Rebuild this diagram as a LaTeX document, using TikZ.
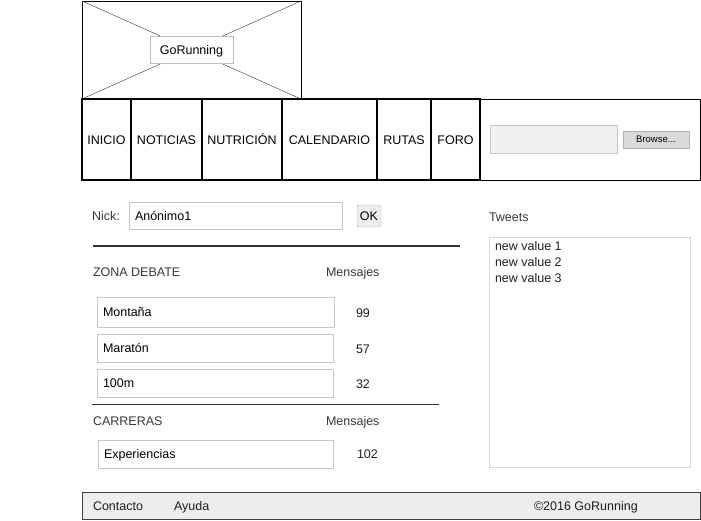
\documentclass[tikz,border=0pt]{standalone}
\usepackage{fontspec}
\setmainfont{Liberation Sans}
\usetikzlibrary{positioning}

\begin{document}
\begin{tikzpicture}[x=1pt,y=-1pt,inner sep=0pt,outer sep=0pt,text height=10.5pt,text depth=1.5pt,font=\fontsize{12.5}{14}\selectfont]
  \tikzstyle{menu}=[draw=black,line width=2pt,minimum height=81pt,text=black]
  \tikzstyle{campo}=[draw=black!22,fill=white,minimum height=28pt,anchor=north west,inner xsep=6pt,align=left,text=black]
  \tikzstyle{etiqueta}=[anchor=west,text=black!78]
  \tikzstyle{cifra}=[anchor=west,text=black!88]
  \useasboundingbox (0,0) rectangle (701,520);

  % cabecera
  \node[draw=black,anchor=north west,minimum width=219pt,minimum height=98pt] (logo) at (82,1) {};
  \draw[black!80] (logo.north west) -- (logo.south east)
	(logo.south west) -- (logo.north east);
  \node[draw=black!25,fill=white,minimum width=83pt,minimum height=27pt] (titulo) at (191.5,49.5) {GoRunning};

  \node[draw=black,anchor=north west,minimum width=220pt,minimum height=81pt] (barra) at (480,99) {};
  \node[menu,minimum width=49pt] (inicio) at (106.5,139.5) {INICIO};
  \node[menu,minimum width=71pt] (noticias) at (166.5,139.5) {NOTICIAS};
  \node[menu,minimum width=80pt] (nutricion) at (242,139.5) {NUTRICIÓN};
  \node[menu,minimum width=95pt] (calendario) at (329.5,139.5) {CALENDARIO};
  \node[menu,minimum width=54pt] (rutas) at (404,139.5) {RUTAS};
  \node[menu,minimum width=49pt] (foro) at (455.5,139.5) {FORO};
  \node[draw=black!22,fill=black!6,anchor=north west,minimum width=127pt,minimum height=28pt] (buscar) at (490,125) {};
  \node[draw=black!30,fill=black!15,anchor=north west,minimum width=66pt,minimum height=17pt,text height=7pt,text depth=1.3pt,font=\fontsize{9.5}{10}\selectfont] (browse) at (623,131) {Browse...};

  % nick
  \node[etiqueta] (nick) at (92,216) {Nick:};
  \node[campo,text width=201pt,minimum height=27pt] (apodo) at (129,202) {Anónimo1};
  \node[draw=black!30,fill=black!7,rounded corners=2pt,anchor=north west,minimum width=24pt,minimum height=22pt,text=black] (ok) at (357,205) {OK};
  \draw[black!80,line width=2.5pt] (93,246) -- (460,246);

  % zona debate
  \node[etiqueta] (zona) at (93,272) {ZONA DEBATE};
  \node[etiqueta] (mens1) at (326,272) {Mensajes};
  \node[campo,text width=225pt,minimum height=30pt] (montana) at (97,297) {Montaña};
  \node[campo,text width=224pt] (maraton) at (97,334) {Maratón};
  \node[campo,text width=224pt] (cien) at (97,369) {100m};
  \node[cifra] (n99) at (356,313) {99};
  \node[cifra] (n57) at (356,349) {57};
  \node[cifra] (n32) at (356,384) {32};
  \draw[black!80] (92,404) -- (439,404);

  % carreras
  \node[etiqueta] (carreras) at (93,421) {CARRERAS};
  \node[etiqueta] (mens2) at (326,421) {Mensajes};
  \node[campo,text width=223pt] (experiencias) at (98,440) {Experiencias};
  \node[cifra] (n102) at (357,454) {102};

  % tweets
  \node[etiqueta] (tweets) at (489,217) {Tweets};
  \node[draw=black!15,anchor=north west,minimum width=201pt,minimum height=230pt] (lista) at (489,237) {};
  \node[cifra] (v1) at (495,246) {new value 1};
  \node[cifra] (v2) at (495,262) {new value 2};
  \node[cifra] (v3) at (495,278) {new value 3};

  % pie
  \node[draw=black!75,fill=black!7,anchor=north west,minimum width=618pt,minimum height=27pt] (pie) at (82,492) {};
  \node[cifra] (contacto) at (93,506) {Contacto};
  \node[cifra] (ayuda) at (174,506) {Ayuda};
  \node[cifra] (copy) at (534,506) {©2016 GoRunning};
\end{tikzpicture}
\end{document}
